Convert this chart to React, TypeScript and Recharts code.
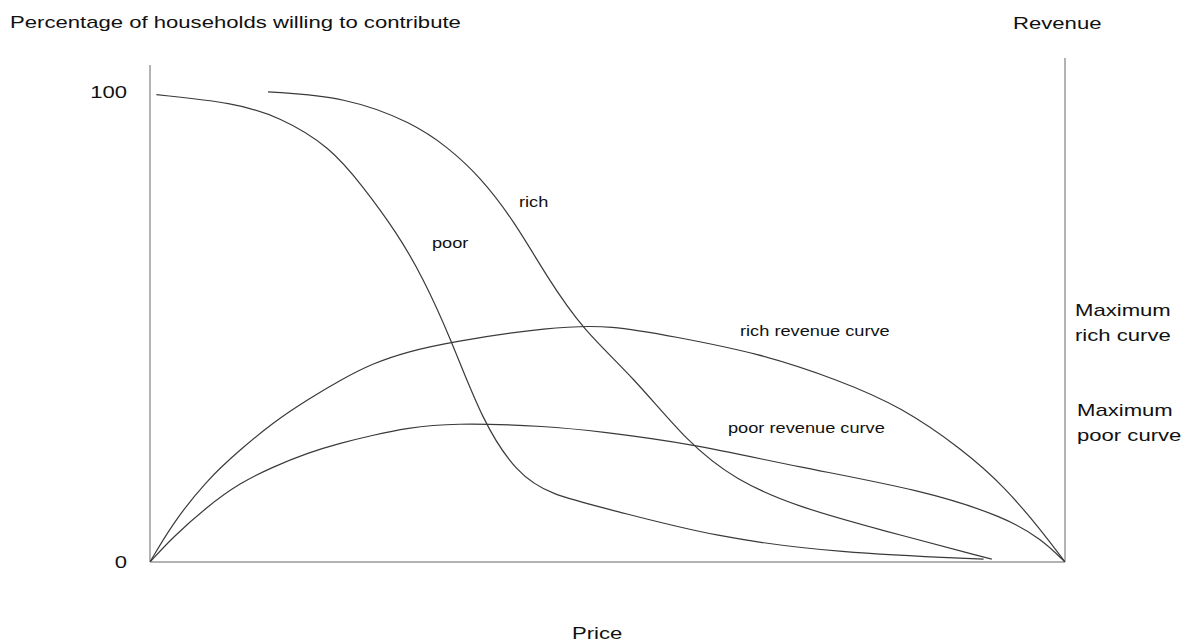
import React from "react";
import { LineChart, Line, XAxis, YAxis, ReferenceLine } from "recharts";

// price (0-100 of axis) / value (0-100 %) pairs
const poorDemand: [number, number][] = [
  [0.7, 99.4], [9.1, 97.7], [14.2, 94.7], [19.7, 88.3], [23.3, 79.8], [27.0, 70.0],
  [29.8, 60.6], [32.8, 47.9], [36.4, 29.6], [40.1, 18.9], [43.7, 14.3], [50.5, 11.1],
  [61.7, 5.3], [75.3, 1.9], [91.1, 0.6],
];
const richDemand: [number, number][] = [
  [12.9, 100], [21.5, 98.9], [28.7, 93.4], [32.5, 88.3], [36.1, 81.9], [39.7, 72.8],
  [43.4, 60.6], [47.3, 49.4], [52.8, 39.4], [58.8, 25.3], [64.0, 17.4], [70.8, 11.7],
  [79.9, 6.8], [92.0, 0.6],
];
const richRevenue: [number, number][] = [
  [0, 0], [2.5, 8.3], [6.2, 17.4], [9.8, 23.8], [13.4, 29.6], [17.2, 34.5], [20.8, 38.7],
  [24.4, 42.3], [28.1, 44.7], [32.8, 46.8], [43.7, 50.0], [50.5, 50.4], [57.3, 47.9],
  [66.4, 44.5], [75.3, 38.7], [82.1, 33.0], [88.9, 23.8], [93.4, 16.0], [97.5, 6.5],
  [100, 0],
];
const poorRevenue: [number, number][] = [
  [0, 0], [2.5, 5.3], [6.2, 11.7], [9.8, 16.8], [13.4, 20.2], [17.2, 23.2], [20.8, 25.3],
  [24.4, 27.0], [28.1, 28.5], [32.8, 29.6], [43.7, 28.9], [49.2, 27.7], [58.8, 25.3],
  [70.8, 20.2], [84.4, 15.3], [93.4, 9.6], [97.5, 4.8], [100, 0],
];
const yTicks = [0, 100];

const toRows = (pts: [number, number][]) => pts.map(([p, v]) => ({ p, v }));

const LINE = "#3a3a3a";
const AXIS = "#9a9a9a";
const FONT = "'Liberation Sans', Arial, sans-serif";

function YTick({ x, y, payload }: any) {
  return (
    <g transform={`translate(${x},${y}) scale(1.3,1)`}>
      <text textAnchor="end" dy="0.36em" fontSize={17} fill="#111" fontFamily={FONT}>
        {payload.value}
      </text>
    </g>
  );
}

function Txt({
  left,
  top,
  size = 17,
  children,
}: {
  left: number;
  top: number;
  size?: number;
  children: React.ReactNode;
}) {
  return (
    <div
      style={{
        position: "absolute",
        left,
        top,
        fontSize: size,
        lineHeight: `${Math.round(size * 1.47)}px`,
        color: "#111",
        whiteSpace: "nowrap",
        transform: "scaleX(1.3)",
        transformOrigin: "left top",
      }}
    >
      {children}
    </div>
  );
}

export default function App() {
  return (
    <div style={{ position: "relative", width: 1175, height: 636, fontFamily: FONT, background: "#fff" }}>
      <LineChart width={1175} height={620} margin={{ top: 50, right: 118, bottom: 66, left: 82 }}>
        <XAxis type="number" dataKey="p" domain={[0, 100]} hide allowDataOverflow />
        <YAxis
          type="number"
          domain={[0, 107.2]}
          ticks={yTicks}
          width={60}
          axisLine={false}
          tickLine={false}
          tickSize={0}
          tickMargin={23}
          tick={<YTick />}
          allowDataOverflow
        />
        <ReferenceLine segment={[{ x: 0, y: 0 }, { x: 0, y: 105.7 }]} stroke={AXIS} strokeWidth={1.5} />
        <ReferenceLine x={100} stroke={AXIS} strokeWidth={1.5} />
        <ReferenceLine y={0} stroke={AXIS} strokeWidth={1.5} />
        <Line data={toRows(poorDemand)} dataKey="v" type="basis" stroke={LINE} strokeWidth={1.2} dot={false} isAnimationActive={false} />
        <Line data={toRows(richDemand)} dataKey="v" type="basis" stroke={LINE} strokeWidth={1.2} dot={false} isAnimationActive={false} />
        <Line data={toRows(richRevenue)} dataKey="v" type="basis" stroke={LINE} strokeWidth={1.2} dot={false} isAnimationActive={false} />
        <Line data={toRows(poorRevenue)} dataKey="v" type="basis" stroke={LINE} strokeWidth={1.2} dot={false} isAnimationActive={false} />
      </LineChart>

      <Txt left={2} top={2}>Percentage of households willing to contribute</Txt>
      <Txt left={1005} top={3}>Revenue</Txt>
      <Txt left={564} top={613}>Price</Txt>
      <Txt left={1067} top={290}>
        Maximum
        <br />
        rich curve
      </Txt>
      <Txt left={1069} top={390}>
        Maximum
        <br />
        poor curve
      </Txt>
      <Txt left={732} top={313} size={14}>rich revenue curve</Txt>
      <Txt left={720} top={410} size={14}>poor revenue curve</Txt>
      <Txt left={511} top={184} size={14}>rich</Txt>
      <Txt left={424} top={225} size={14}>poor</Txt>
    </div>
  );
}
